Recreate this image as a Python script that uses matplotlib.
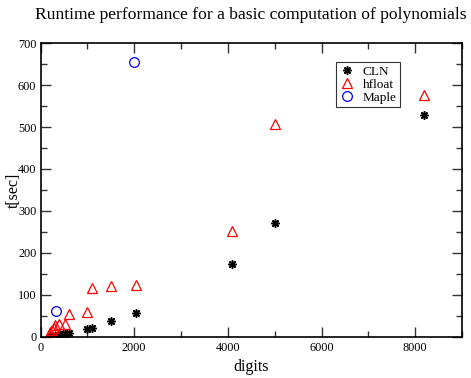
import numpy as np
import matplotlib
matplotlib.use("Agg")
import matplotlib.pyplot as plt
from matplotlib.ticker import MultipleLocator

plt.rcParams['font.family'] = ['Liberation Serif', 'DejaVu Serif']

# CLN
cln_x = [200, 230, 260, 300, 340, 380, 420, 470, 520, 600, 1000, 1100, 1500, 2048, 4096, 5000, 8192]
cln_y = [1, 2, 2, 3, 3, 4, 5, 6, 7, 10, 19, 20, 38, 57, 174, 272, 529]
# hfloat
hf_x = [200, 240, 280, 300, 400, 520, 600, 1000, 1100, 1500, 2048, 4096, 5000, 8192]
hf_y = [12, 17, 22, 29, 30, 30, 55, 60, 116, 122, 124, 252, 507, 576]
# Maple
mp_x = [330, 2000]
mp_y = [62, 656]

fig = plt.figure(figsize=(4.71, 3.78), dpi=100)
ax = fig.add_axes([0.086, 0.109, 0.895, 0.777])

ax.plot(cln_x, cln_y, linestyle='none', marker=(8, 2, 0), markersize=6,
        markeredgewidth=1.1, color='black', label='CLN')
ax.plot(hf_x, hf_y, linestyle='none', marker='^', markersize=7.5,
        markerfacecolor='none', markeredgecolor='red', markeredgewidth=0.9, label='hfloat')
ax.plot(mp_x, mp_y, linestyle='none', marker='o', markersize=7,
        markerfacecolor='none', markeredgecolor='blue', markeredgewidth=0.9, label='Maple')

ax.set_xlim(0, 9000)
ax.set_ylim(0, 700)
ax.xaxis.set_major_locator(MultipleLocator(2000))
ax.xaxis.set_minor_locator(MultipleLocator(1000))
ax.yaxis.set_major_locator(MultipleLocator(100))
ax.yaxis.set_minor_locator(MultipleLocator(50))
ax.tick_params(which='both', direction='in', top=True, right=True, labelsize=8.8, colors='#333333')
ax.tick_params(which='major', length=7, width=1)
ax.tick_params(which='minor', length=4, width=1)
ax.tick_params(axis='both', labelcolor='black')
ax.tick_params(axis='y', pad=3)
for s in ax.spines.values():
    s.set_linewidth(1.2)

ax.set_title('Runtime performance for a basic computation of polynomials', fontsize=12.6, pad=17)
ax.set_xlabel('digits', fontsize=11.5, labelpad=4)
ax.set_ylabel('t[sec]', fontsize=11.5)
ax.yaxis.set_label_coords(-0.045, 0.5)

leg = ax.legend(loc='upper left', bbox_to_anchor=(0.70, 0.935), fontsize=9.5,
                frameon=True, fancybox=False, edgecolor='black', handletextpad=0.5,
                borderpad=0.25, labelspacing=0.05, handlelength=1.3, borderaxespad=0)
leg.get_frame().set_linewidth(0.8)

fig.savefig('out.png', dpi=100)
